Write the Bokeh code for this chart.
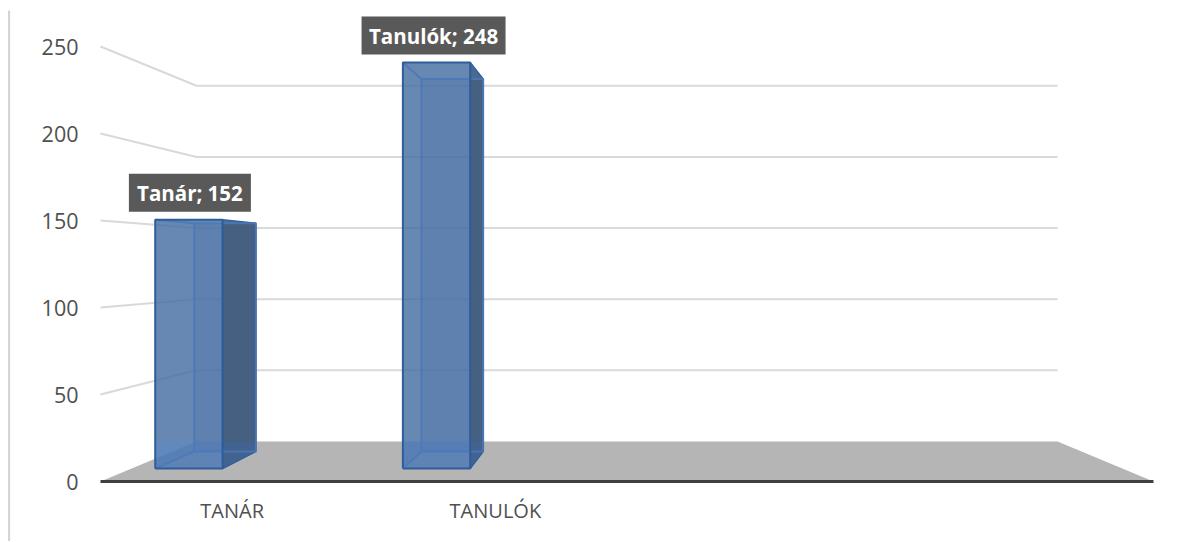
from bokeh.plotting import figure
from bokeh.models import FixedTicker
from bokeh.embed import file_html
from bokeh.resources import INLINE
from bokeh.core.properties import value

# ---- data -------------------------------------------------------------
categories = ["TANÁR", "TANULÓK"]
series_names = ["Tanár", "Tanulók"]
series_values = [152, 248]
y_ticks = [0, 50, 100, 150, 200, 250]
n_slots = 4

# ---- layout of the 3-D box (value-axis units) --------------------------
PX_U = 263.25          # pixels per category slot on the front plane
PX_V = 1.74            # pixels per value unit on the front plane
X0, Y0 = 100.0, 481.0  # front-left corner of the plot box (page pixels)
SHRINK = 0.1823        # how much the back plane is smaller than the front
LIFT = 23.0            # rise of the back plane's zero, in value units
D_FRONT, D_BACK = 0.325, 0.75  # depth of a bar's front and back faces
BAR_OFFSET, BAR_W = -0.405, 0.272
WIDTH, HEIGHT = 1191, 541
LABEL_W = [122, 144]
LABEL_SHIFT = [1, -3]

def proj(u, v, d):
    """category position, value, depth -> front-plane data coordinates"""
    k = 1 - SHRINK * d
    return n_slots / 2 + (u - n_slots / 2) * k, LIFT * d + v * k

def poly(pts):
    xy = [proj(*p) for p in pts]
    return [a for a, _ in xy], [b for _, b in xy]

p = figure(width=WIDTH, height=HEIGHT, output_backend="svg", toolbar_location=None,
           x_range=((0 - X0) / PX_U, (WIDTH - X0) / PX_U),
           y_range=((Y0 - HEIGHT) / PX_V, (Y0 - 0) / PX_V),
           min_border=0, outline_line_color=None)
p.grid.visible = False

FONT = "Open Sans"
TEXT = "#505050"
GRID = "#d9d9d9"

# left frame line of the picture
fx = (8.6 - X0) / PX_U
p.segment([fx], [(Y0 - 10) / PX_V], [fx], [(Y0 - HEIGHT) / PX_V], line_color="#d2d2d2", line_width=2)

# walls
for t in y_ticks[1:]:
    xs, ys = poly([(0, t, 0), (0, t, 1), (n_slots, t, 1)])
    p.line(xs, ys, line_color=GRID, line_width=2)

# floor
xs, ys = poly([(0, 0, 0), (0, 0, 1), (n_slots, 0, 1), (n_slots, 0, 0)])
p.patch(xs, ys, fill_color="#b5b5b5", line_color=None)
xs, ys = poly([(0, 0, 0), (n_slots, 0, 0)])
p.line(xs, ys, line_color="#404040", line_width=3)

# bars
EDGE = "#2f5d99"
INNER = "#4a79b8"
for i, (name, val) in enumerate(zip(series_names, series_values)):
    a = i + 0.5 + BAR_OFFSET
    b = a + BAR_W
    # back, left, right faces
    xs, ys = poly([(a, 0, D_BACK), (b, 0, D_BACK), (b, val, D_BACK), (a, val, D_BACK)])
    p.patch(xs, ys, fill_color="#4f7ab5", fill_alpha=0.5, line_color=None)
    xs, ys = poly([(a, 0, D_FRONT), (a, 0, D_BACK), (a, val, D_BACK), (a, val, D_FRONT)])
    p.patch(xs, ys, fill_color="#4f7ab5", fill_alpha=0.3, line_color=None)
    xs, ys = poly([(b, 0, D_FRONT), (b, 0, D_BACK), (b, val, D_BACK), (b, val, D_FRONT)])
    p.patch(xs, ys, fill_color="#3f5b7c", fill_alpha=0.95, line_color=EDGE, line_width=1.5)
    # top
    xs, ys = poly([(a, val, D_FRONT), (b, val, D_FRONT), (b, val, D_BACK), (a, val, D_BACK)])
    p.patch(xs, ys, fill_color="#4f7ab5", fill_alpha=0.3, line_color=None)
    # front face
    xs, ys = poly([(a, 0, D_FRONT), (b, 0, D_FRONT), (b, val, D_FRONT), (a, val, D_FRONT)])
    p.patch(xs, ys, fill_color="#466ea0", fill_alpha=0.75, line_color=None)
    # brighter where the grey floor shows through
    fa, fy = proj(a, 0, D_FRONT)
    fr, _ = proj(b, 0, D_FRONT)
    br, by = proj(b, 0, D_BACK)
    p.patch([fa, fr, fr, fa], [LIFT, LIFT, fy, fy], fill_color="#5a8ad0", fill_alpha=0.36, line_color=None)
    p.patch([fr, br, br, fr], [LIFT, LIFT, by, fy], fill_color="#3f70c0", fill_alpha=0.25, line_color=None)
    # inner edges, seen through the faces
    xs, ys = poly([(a, 0, D_BACK), (b, 0, D_BACK), (b, val, D_BACK), (a, val, D_BACK), (a, 0, D_BACK)])
    p.line(xs, ys, line_color=INNER, line_width=2, line_alpha=0.85)
    for e in ([(a, 0, D_FRONT), (a, 0, D_BACK)], [(a, val, D_FRONT), (a, val, D_BACK)]):
        xs, ys = poly(e)
        p.line(xs, ys, line_color=INNER, line_width=2, line_alpha=0.85)
    # front outline
    xs, ys = poly([(a, 0, D_FRONT), (b, 0, D_FRONT), (b, val, D_FRONT), (a, val, D_FRONT), (a, 0, D_FRONT)])
    p.line(xs, ys, line_color=EDGE, line_width=2)
    # data label
    lx = proj((a + b) / 2, val, D_FRONT)[0] + LABEL_SHIFT[i] / PX_U
    ly = proj(a, val, D_FRONT)[1] + 27 / PX_V
    txt = f"{name}; {val}"
    p.rect([lx], [ly], width=[LABEL_W[i]], height=[38],
           width_units="screen", height_units="screen", fill_color="#595959", line_color=None)
    p.text([lx], [ly], text=[txt], text_color="#ffffff", text_font=value(FONT),
           text_font_style="bold", text_font_size="20.5px", text_align="center", text_baseline="middle")

# axes
ya = p.yaxis[0]
ya.fixed_location = (93 - X0) / PX_U
ya.ticker = FixedTicker(ticks=y_ticks)
ya.axis_line_color = None
ya.major_tick_line_color = None
ya.minor_tick_line_color = None
ya.major_label_standoff = 9
ya.major_label_text_font = FONT
ya.major_label_text_font_size = "21.5px"
ya.major_label_text_color = TEXT

xa = p.xaxis[0]
xa.fixed_location = (Y0 - 482) / PX_V
xa.ticker = FixedTicker(ticks=[i + 0.5 for i in range(len(categories))])
xa.major_label_overrides = {i + 0.5: c for i, c in enumerate(categories)}
xa.axis_line_color = None
xa.major_tick_line_color = None
xa.minor_tick_line_color = None
xa.major_label_standoff = 8
xa.major_label_text_font = FONT
xa.major_label_text_font_size = "20px"
xa.major_label_text_color = TEXT

open("out.html", "w").write(file_html(p, INLINE))
